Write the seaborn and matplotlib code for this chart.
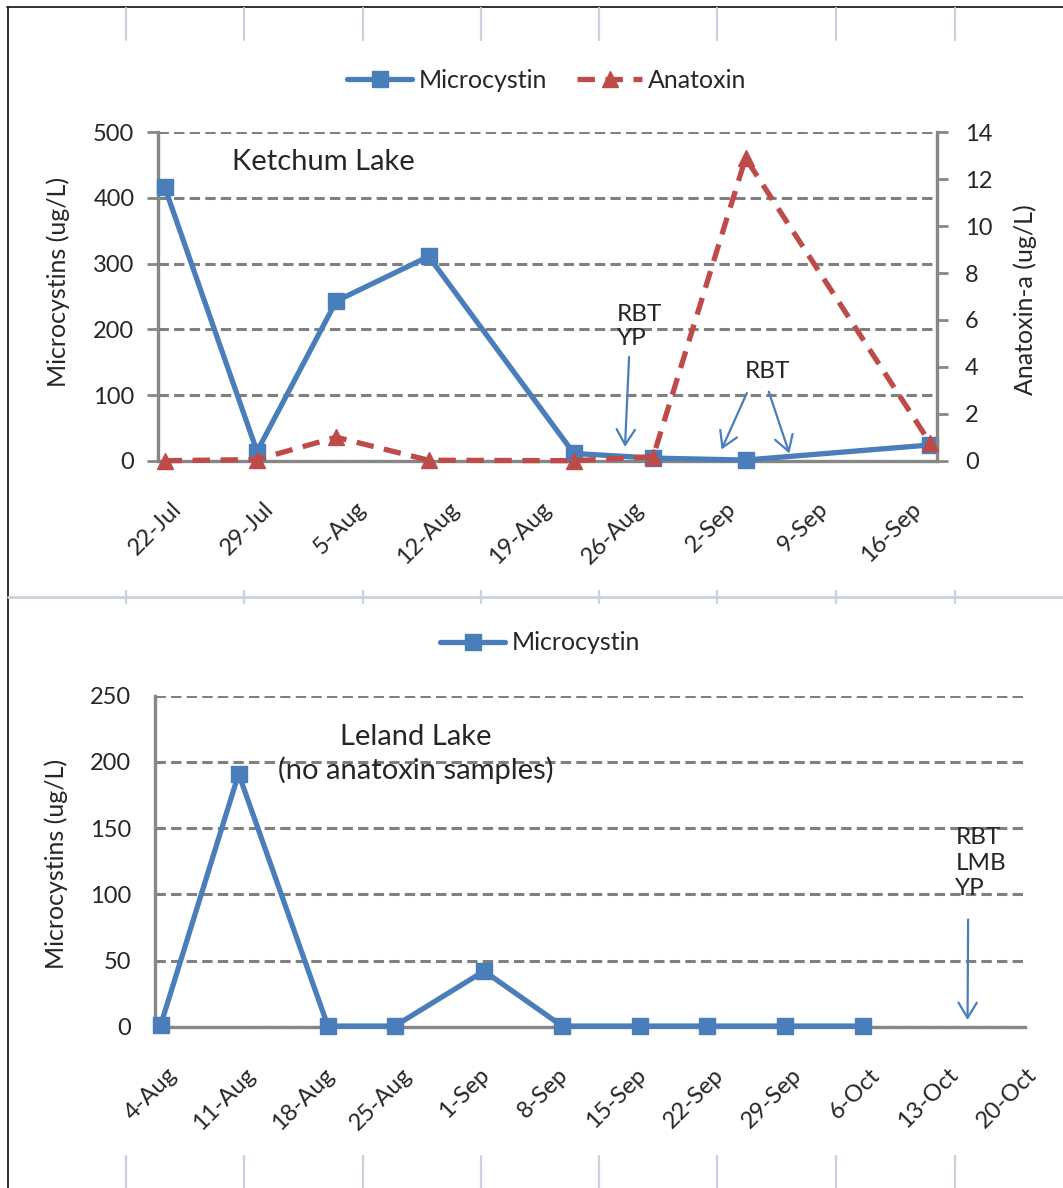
import numpy as np
import pandas as pd
import seaborn as sns
import matplotlib.pyplot as plt
import matplotlib.dates as mdates
from matplotlib.lines import Line2D
from matplotlib.transforms import ScaledTranslation

# Ketchum Lake samples (microcystin on left axis, anatoxin-a on right axis)
ketchum_dates = ['2010-07-22', '2010-07-29', '2010-08-04', '2010-08-11',
                 '2010-08-22', '2010-08-28', '2010-09-04', '2010-09-18']
ketchum_microcystin = [417, 14, 243, 311, 11, 4, 1, 24]
ketchum_anatoxin = [0.0, 0.05, 1.0, 0.02, 0.0, 0.17, 12.9, 0.74]
ketchum_ticks = ['22-Jul', '29-Jul', '5-Aug', '12-Aug', '19-Aug', '26-Aug',
                 '2-Sep', '9-Sep', '16-Sep']

# Leland Lake samples (microcystin only)
leland_dates = ['2010-08-04', '2010-08-11', '2010-08-19', '2010-08-25', '2010-09-02',
                '2010-09-09', '2010-09-16', '2010-09-22', '2010-09-29', '2010-10-06']
leland_microcystin = [1, 191, 0.5, 0.5, 42, 0.5, 0.5, 0.5, 0.5, 0.5]
leland_ticks = ['4-Aug', '11-Aug', '18-Aug', '25-Aug', '1-Sep', '8-Sep', '15-Sep',
                '22-Sep', '29-Sep', '6-Oct', '13-Oct', '20-Oct']

BLUE = '#4A7EBB'
RED = '#BE4B48'
GRID = '#808080'
AXIS = '#868686'
CELL = '#C9D1E1'
TICK_FS = 17

sns.set_style('white')
plt.rcParams['font.family'] = ['Lato', 'DejaVu Sans']

W, H = 1063, 1188
fig = plt.figure(figsize=(W / 100, H / 100), dpi=100)


def box(l, t, r, b):
    return [l / W, 1 - b / H, (r - l) / W, (b - t) / H]


def fig_line(x0, y0, x1, y1, color, lw):
    fig.add_artist(Line2D([x0 / W, x1 / W], [1 - y0 / H, 1 - y1 / H],
                          color=color, lw=lw, transform=fig.transFigure))


def day(s, offset=0.0):
    return pd.Timestamp(s) + pd.Timedelta(days=offset)


def tick_dates(labels):
    return pd.to_datetime([l + '-2010' for l in labels], format='%d-%b-%Y')


half = pd.Timedelta(hours=12)


def style_axes(ax, labels, xmin, xmax, fs=TICK_FS):
    dates = tick_dates(labels)
    ax.set_xlim(mdates.date2num(xmin), mdates.date2num(xmax))
    ax.set_xticks(mdates.date2num((dates - half).to_pydatetime()))
    ax.set_xticklabels([''] * len(dates))
    ax.set_xticks(mdates.date2num(dates.to_pydatetime()), minor=True)
    ax.set_xticklabels(labels, minor=True)
    ax.tick_params(axis='x', which='major', length=6, width=2, color=AXIS, direction='out')
    ax.tick_params(axis='x', which='minor', length=0, pad=27, labelsize=fs)
    shift = ScaledTranslation(0.06, 0, fig.dpi_scale_trans)
    for lbl in ax.get_xticklabels(minor=True):
        lbl.set_rotation(45)
        lbl.set_ha('right')
        lbl.set_rotation_mode('anchor')
        lbl.set_transform(lbl.get_transform() + shift)
    ax.tick_params(axis='y', length=8, width=2, color=AXIS, direction='out',
                   labelsize=fs, pad=9)
    ax.yaxis.grid(True, color=GRID, lw=2.2, ls=(0, (3.4, 1.7)))
    ax.xaxis.grid(False)
    ax.set_axisbelow(True)
    for side in ['top', 'right']:
        ax.spines[side].set_visible(False)
    for side in ['left', 'bottom']:
        ax.spines[side].set_color(AXIS)
        ax.spines[side].set_linewidth(2.4)
    ax.set_xlabel('')


# ---------------- Ketchum Lake ----------------
ax1 = fig.add_axes(box(158, 132.3, 937, 460.7))
ax2 = ax1.twinx()

k_dates = pd.to_datetime(ketchum_dates)
sns.lineplot(x=k_dates, y=ketchum_microcystin, ax=ax1, color=BLUE, lw=3.8,
             marker='s', markersize=11.5, markeredgecolor=BLUE, markeredgewidth=1,
             label='Microcystin', clip_on=False, zorder=3)
sns.lineplot(x=k_dates, y=ketchum_anatoxin, ax=ax2, color=RED, lw=3.8,
             linestyle=(0, (3.3, 2.0)), marker='^', markersize=11.5,
             markeredgecolor=RED, markeredgewidth=1,
             label='Anatoxin', clip_on=False, zorder=3)

style_axes(ax1, ketchum_ticks, tick_dates(ketchum_ticks)[0] - half, k_dates[-1] + half)
ax1.set_ylim(0, 500)
ax1.set_yticks(np.arange(0, 501, 100))
ax1.set_ylabel('Microcystins (ug/L)', fontsize=18)
ax1.yaxis.set_label_coords(-0.113, 0.545)

ax2.set_ylim(0, 14)
ax2.set_yticks(np.arange(0, 15, 2))
ax2.tick_params(axis='y', length=8, width=2, color=AXIS, direction='out',
                labelsize=TICK_FS, pad=12)
for side in ['top', 'left', 'bottom']:
    ax2.spines[side].set_visible(False)
ax2.spines['right'].set_color(AXIS)
ax2.spines['right'].set_linewidth(2.4)
ax2.grid(False)
ax2.set_ylabel('Anatoxin-a (ug/L)', fontsize=18)
ax2.yaxis.set_label_coords(1.098, 0.492)
ax2.set_xlim(ax1.get_xlim())

h1, l1 = ax1.get_legend_handles_labels()
h2, l2 = ax2.get_legend_handles_labels()
ax1.get_legend().remove()
ax2.get_legend().remove()
fig.legend(h1 + h2, l1 + l2, loc='center', bbox_to_anchor=(547 / W, 1 - 80 / H),
           ncol=2, frameon=False, fontsize=18, handlelength=2.6,
           handletextpad=0.25, columnspacing=1.2)

ax1.text(0.0946, 0.91, 'Ketchum Lake', transform=ax1.transAxes,
         ha='left', va='center', fontsize=21)

arrow = dict(arrowstyle='->,head_length=0.55,head_width=0.33', color=BLUE,
             lw=1.6, mutation_scale=20, shrinkA=0, shrinkB=0)
ax1.text(day('2010-08-25', 0.27), 204, 'RBT\nYP', ha='left', va='center',
         fontsize=17.5, linespacing=1.2)
ax1.annotate('', xy=(day('2010-08-25', 0.87), 21), xytext=(day('2010-08-26', 0.18), 158),
             arrowprops=arrow)
ax1.text(day('2010-09-03', 0.95), 135.5, 'RBT', ha='left', va='center', fontsize=17.5)
ax1.annotate('', xy=(day('2010-09-02', 0.18), 17), xytext=(day('2010-09-04', 0.1), 103),
             arrowprops=arrow)
ax1.annotate('', xy=(day('2010-09-07', 0.32), 11), xytext=(day('2010-09-05', 0.76), 105),
             arrowprops=arrow)

# ---------------- Leland Lake ----------------
ax3 = fig.add_axes(box(155, 695.7, 1025, 1026.7))
l_dates = pd.to_datetime(leland_dates)
sns.lineplot(x=l_dates, y=leland_microcystin, ax=ax3, color=BLUE, lw=3.8,
             marker='s', markersize=11.5, markeredgecolor=BLUE, markeredgewidth=1,
             label='Microcystin', clip_on=False, zorder=3)
l_ticks = tick_dates(leland_ticks)
style_axes(ax3, leland_ticks, l_ticks[0] - half, l_ticks[-1] + half)
ax3.set_ylim(0, 250)
ax3.set_yticks(np.arange(0, 251, 50))
ax3.set_ylabel('Microcystins (ug/L)', fontsize=18)
ax3.yaxis.set_label_coords(-0.1, 0.493)

h3, l3 = ax3.get_legend_handles_labels()
ax3.get_legend().remove()
fig.legend(h3, l3, loc='center', bbox_to_anchor=(540 / W, 1 - 643 / H),
           frameon=False, fontsize=18, handlelength=2.6, handletextpad=0.25)

ax3.text(0.300, 0.824, 'Leland Lake\n(no anatoxin samples)', transform=ax3.transAxes,
         ha='center', va='center', fontsize=21, linespacing=1.25)
ax3.text(day('2010-10-14', 0.25), 123.6, 'RBT\nLMB\nYP', ha='left', va='center',
         fontsize=17.5, linespacing=1.25)
ax3.annotate('', xy=(day('2010-10-15', 0.35), 5), xytext=(day('2010-10-15', 0.4), 81),
             arrowprops=arrow)

# ---------------- worksheet frame ----------------
fig_line(7, 6.5, W, 6.5, '#222222', 1.3)
fig_line(7.5, 6.5, 7.5, H, '#222222', 1.3)
fig_line(8, 597, W, 597, CELL, 2)
for cx in [125.5, 244, 362.7, 481, 599, 717, 836, 954.6]:
    fig_line(cx, 8, cx, 40, CELL, 1.6)
    fig_line(cx, 591, cx, 603, CELL, 1.6)
    fig_line(cx, 1156, cx, H, CELL, 1.6)

fig.savefig('out.png', dpi=100)
